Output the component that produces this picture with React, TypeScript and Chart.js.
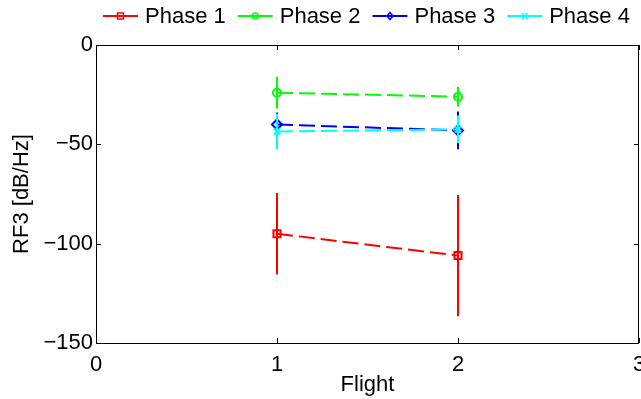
import React, { useEffect, useRef } from 'react';
import { Chart, registerables } from 'chart.js';

Chart.register(...registerables);

// ---- data ----
const flights = [1, 2];
const seriesNames = ['Phase 1', 'Phase 2', 'Phase 3', 'Phase 4'];
const phase1 = [-95, -106];
const phase1Err = [20.5, 30.5];
const phase2 = [-24, -26];
const phase2Err = [8, 5];
const phase3 = [-40, -43];
const phase3Err = [6, 9.5];
const phase4 = [-43.5, -42.5];
const phase4Err = [9, 7];
const xTickValues = [0, 1, 2, 3];
const yTickValues = [-150, -100, -50, 0];
const xTitle = 'Flight';
const yTitle = 'RF3 [dB/Hz]';

// ---- styles ----
const FONT = '"Liberation Sans", Arial, Helvetica, sans-serif';
const FONT_SIZE = 22;
const colors = ['#ff0000', '#00ff00', '#0000ff', '#00ffff'];
const markers = ['rect', 'circle', 'rectRot', 'crossRot'];
const markerRadius = [5, 4, 5, 4.5];

const values = [phase1, phase2, phase3, phase4];
const errors = [phase1Err, phase2Err, phase3Err, phase4Err];

function drawMarker(ctx: CanvasRenderingContext2D, style: string, x: number, y: number, r: number, color: string) {
  ctx.save();
  ctx.strokeStyle = color;
  ctx.lineWidth = 1.5;
  ctx.setLineDash([]);
  ctx.beginPath();
  if (style === 'rect') {
    ctx.rect(x - r, y - r, 2 * r, 2 * r);
  } else if (style === 'circle') {
    ctx.arc(x, y, r, 0, Math.PI * 2);
  } else if (style === 'rectRot') {
    ctx.moveTo(x, y - r * 1.2);
    ctx.lineTo(x + r, y);
    ctx.lineTo(x, y + r * 1.2);
    ctx.lineTo(x - r, y);
    ctx.closePath();
  } else {
    ctx.moveTo(x - r, y - r);
    ctx.lineTo(x + r, y + r);
    ctx.moveTo(x + r, y - r);
    ctx.lineTo(x - r, y + r);
  }
  ctx.stroke();
  ctx.restore();
}

const errorBarPlugin = {
  id: 'errorBars',
  beforeDatasetDraw(chart: any, args: any) {
    const i = args.index;
    const errs = errors[i];
    const vals = values[i];
    if (!errs) return;
    const { ctx, scales } = chart;
    const xs = scales.x;
    const ys = scales.y;
    ctx.save();
    ctx.strokeStyle = colors[i];
    ctx.lineWidth = 2;
    ctx.setLineDash([]);
    for (let k = 0; k < flights.length; k++) {
      const px = xs.getPixelForValue(flights[k]);
      const y1 = ys.getPixelForValue(vals[k] + errs[k]);
      const y2 = ys.getPixelForValue(vals[k] - errs[k]);
      ctx.beginPath();
      ctx.moveTo(px, y1);
      ctx.lineTo(px, y2);
      ctx.stroke();
    }
    ctx.restore();
  },
};

const framePlugin = {
  id: 'frame',
  afterDraw(chart: any) {
    const { ctx, chartArea: a, scales } = chart;
    ctx.save();
    ctx.strokeStyle = '#000';
    ctx.lineWidth = 1;
    ctx.setLineDash([]);
    ctx.strokeRect(Math.round(a.left) + 0.5, Math.round(a.top) + 0.5, Math.round(a.right - a.left) - 1, Math.round(a.bottom - a.top));
    const tl = 5;
    ctx.beginPath();
    for (const v of xTickValues) {
      const px = Math.round(scales.x.getPixelForValue(v)) + 0.5;
      ctx.moveTo(px, a.bottom);
      ctx.lineTo(px, a.bottom - tl);
      ctx.moveTo(px, a.top);
      ctx.lineTo(px, a.top + tl);
    }
    for (const v of yTickValues) {
      const py = Math.round(scales.y.getPixelForValue(v)) + 0.5;
      ctx.moveTo(a.left, py);
      ctx.lineTo(a.left + tl, py);
      ctx.moveTo(a.right, py);
      ctx.lineTo(a.right - tl, py);
    }
    ctx.stroke();

    // legend
    ctx.font = `${FONT_SIZE}px ${FONT}`;
    ctx.textBaseline = 'middle';
    ctx.textAlign = 'left';
    let x0 = 103;
    const ly = 16;
    for (let i = 0; i < seriesNames.length; i++) {
      ctx.strokeStyle = colors[i];
      ctx.lineWidth = 2;
      ctx.beginPath();
      ctx.moveTo(x0, ly);
      ctx.lineTo(x0 + 35, ly);
      ctx.stroke();
      drawMarker(ctx, markers[i], x0 + 17.5, ly, 3, colors[i]);
      ctx.fillStyle = '#000';
      ctx.fillText(seriesNames[i], x0 + 42, ly + 1);
      x0 += 42 + ctx.measureText(seriesNames[i]).width + 12;
    }
    ctx.restore();
  },
};

const minus = (v: number) => String(v).replace('-', '\u2212');

export default function App() {
  const ref = useRef<HTMLCanvasElement | null>(null);
  useEffect(() => {
    document.body.style.margin = '0';
    if (!ref.current) return;
    const datasets = seriesNames.map((name, i) => ({
      label: name,
      data: flights.map((f, k) => ({ x: f, y: values[i][k] })),
      borderColor: colors[i],
      backgroundColor: colors[i],
      borderWidth: 2,
      borderDash: [16, 6],
      showLine: true,
      fill: false,
      tension: 0,
      pointStyle: markers[i] as any,
      pointRadius: markerRadius[i],
      pointBorderWidth: 2,
      pointBorderColor: colors[i],
      pointBackgroundColor: 'rgba(255,255,255,0)',
      order: seriesNames.length - 1 - i,
    }));
    const chart = new Chart(ref.current, {
      type: 'scatter',
      data: { datasets },
      plugins: [errorBarPlugin, framePlugin],
      options: {
        animation: false,
        responsive: false,
        layout: { autoPadding: false, padding: { top: 45, right: 2, left: 0, bottom: 0 } },
        plugins: { legend: { display: false }, tooltip: { enabled: false } },
        scales: {
          x: {
            type: 'linear',
            min: 0,
            max: 3,
            grid: { display: false, drawTicks: false },
            border: { display: false },
            afterBuildTicks: (s: any) => { s.ticks = xTickValues.map((v) => ({ value: v })); },
            afterFit: (s: any) => { s.height = 56; s.paddingLeft = 0; s.paddingRight = 0; },
            ticks: {
              color: '#000',
              padding: 9,
              maxRotation: 0,
              font: { family: FONT, size: FONT_SIZE },
              callback: (v: any) => minus(v),
            },
            title: {
              display: true,
              text: xTitle,
              color: '#000',
              font: { family: FONT, size: FONT_SIZE },
              padding: { top: 0, bottom: 1 },
            },
          },
          y: {
            type: 'linear',
            min: -150,
            max: 0,
            grid: { display: false, drawTicks: false },
            border: { display: false },
            afterBuildTicks: (s: any) => { s.ticks = yTickValues.map((v) => ({ value: v })); },
            afterFit: (s: any) => { s.width = 96; },
            ticks: {
              color: '#000',
              padding: 3,
              font: { family: FONT, size: FONT_SIZE },
              callback: (v: any) => minus(v),
            },
            title: {
              display: true,
              text: yTitle,
              color: '#000',
              font: { family: FONT, size: FONT_SIZE },
              padding: { top: 9, bottom: 0 },
            },
          },
        },
      },
    });
    return () => chart.destroy();
  }, []);
  return (
    <canvas
      ref={ref}
      width={641}
      height={399}
      style={{ position: 'absolute', left: 0, top: 0, width: 641, height: 399, display: 'block' }}
    />
  );
}
